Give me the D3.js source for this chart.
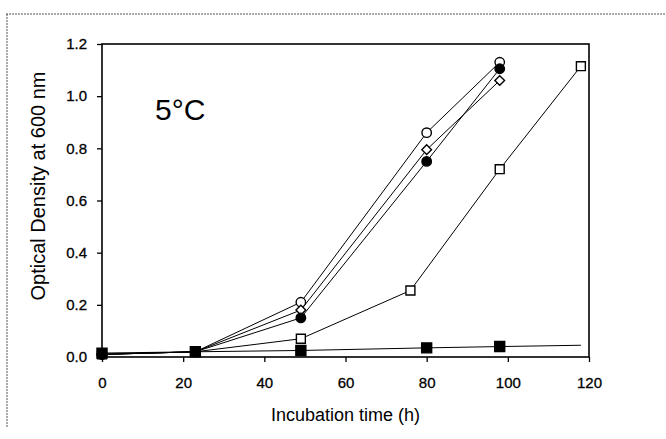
<!DOCTYPE html>
<html>
<head>
<meta charset="utf-8">
<script src="https://cdn.jsdelivr.net/npm/d3@7"></script>
<style>
  html, body { margin: 0; padding: 0; background: #fff; }
  svg { display: block; font-family: "Liberation Sans", Arial, sans-serif; }
</style>
</head>
<body>
<div id="viz"></div>
<script>
// hours and optical density
const openCircleT = [0, 23, 49, 80, 98];
const openCircleOD = [0.01, 0.02, 0.21, 0.86, 1.13];

const openDiamondT = [0, 23, 49, 80, 98];
const openDiamondOD = [0.01, 0.02, 0.18, 0.795, 1.06];

const filledCircleT = [0, 23, 49, 80, 98];
const filledCircleOD = [0.01, 0.02, 0.15, 0.75, 1.105];

const openSquareT = [0, 23, 49, 76, 98, 118];
const openSquareOD = [0.01, 0.02, 0.07, 0.255, 0.72, 1.115];

const filledSquareT = [0, 23, 49, 80, 98, 118];
const filledSquareOD = [0.015, 0.02, 0.025, 0.035, 0.04, 0.045];
const filledSquareMarked = [true, true, true, true, true, false];

const xTicks = [0, 20, 40, 60, 80, 100, 120];
const yTicks = [0.0, 0.2, 0.4, 0.6, 0.8, 1.0, 1.2];

// open symbols first so the filled ones sit on top where they overlap
const series = [
  { name: "open circle", shape: "circle", filled: false, t: openCircleT, od: openCircleOD },
  { name: "open diamond", shape: "diamond", filled: false, t: openDiamondT, od: openDiamondOD },
  { name: "open square", shape: "square", filled: false, t: openSquareT, od: openSquareOD },
  { name: "filled circle", shape: "circle", filled: true, t: filledCircleT, od: filledCircleOD },
  { name: "filled square", shape: "square", filled: true, t: filledSquareT, od: filledSquareOD, marked: filledSquareMarked }
];

const W = 666, H = 439;
const margin = { top: 44, right: 77, bottom: 82, left: 102 };
const width = W - margin.left - margin.right;
const height = H - margin.top - margin.bottom;

const root = d3.select("#viz").append("svg")
  .attr("width", W)
  .attr("height", H);

// scanned page edges
root.append("line")
  .attr("x1", 6).attr("x2", W).attr("y1", 14).attr("y2", 14)
  .style("stroke", "#555").style("stroke-width", 1).style("stroke-dasharray", "2,1");
root.append("line")
  .attr("x1", 7).attr("x2", 7).attr("y1", 14).attr("y2", H - 12)
  .style("stroke", "#555").style("stroke-width", 1).style("stroke-dasharray", "2,1");

const svg = root.append("g")
  .attr("transform", `translate(${margin.left},${margin.top})`);

const x = d3.scaleLinear().domain([0, 120]).range([0, width]);
const y = d3.scaleLinear().domain([0, 1.2]).range([height, 0]);

const xAxis = svg.append("g")
  .attr("transform", `translate(0,${height})`)
  .call(d3.axisBottom(x).tickValues(xTicks).tickSize(5).tickPadding(15).tickFormat(d3.format("d")));
const yAxis = svg.append("g")
  .call(d3.axisLeft(y).tickValues(yTicks).tickSize(5).tickPadding(10).tickFormat(d3.format(".1f")));

[xAxis, yAxis].forEach(a => {
  a.select(".domain").remove();
  a.selectAll("line").style("stroke", "#000").style("stroke-width", 1.3);
  a.selectAll("text")
    .style("font-size", "15px")
    .style("fill", "#000")
    .style("stroke", "#000")
    .style("stroke-width", 0.3);
});

svg.append("rect")
  .attr("width", width)
  .attr("height", height)
  .style("fill", "none")
  .style("stroke", "#000")
  .style("stroke-width", 1.6);

const line = d3.line()
  .x(d => x(d.t))
  .y(d => y(d.od));

series.forEach(s => {
  const pts = s.t.map((t, i) => ({ t: t, od: s.od[i], marked: s.marked ? s.marked[i] : true }));
  svg.append("path")
    .datum(pts)
    .attr("d", line)
    .style("fill", "none")
    .style("stroke", "#000")
    .style("stroke-width", 1);
});

series.forEach(s => {
  const pts = s.t.map((t, i) => ({ t: t, od: s.od[i], marked: s.marked ? s.marked[i] : true }));
  const sym = s.shape === "circle" ? d3.symbolCircle
    : s.shape === "square" ? d3.symbolSquare : d3.symbolDiamond2;
  const size = s.shape === "circle" ? 70 : s.shape === "square" ? (s.filled ? 100 : 80) : 60;

  svg.selectAll(null)
    .data(pts.filter(d => d.marked))
    .join("path")
      .attr("transform", d => `translate(${x(d.t)},${y(d.od)})`)
      .attr("d", d3.symbol().type(sym).size(size))
      .style("fill", s.filled ? "#000" : "#fff")
      .style("stroke", "#000")
      .style("stroke-width", 1.4);
});

svg.append("text")
  .attr("x", 53)
  .attr("y", 76)
  .style("font-size", "30px")
  .text("5°C");

svg.append("text")
  .attr("x", width / 2)
  .attr("y", height + 64)
  .attr("text-anchor", "middle")
  .style("font-size", "18px")
  .text("Incubation time (h)");

svg.append("text")
  .attr("transform", `translate(-57,142) rotate(-90)`)
  .attr("text-anchor", "middle")
  .style("font-size", "20px")
  .text("Optical Density at 600 nm");
</script>
</body>
</html>
